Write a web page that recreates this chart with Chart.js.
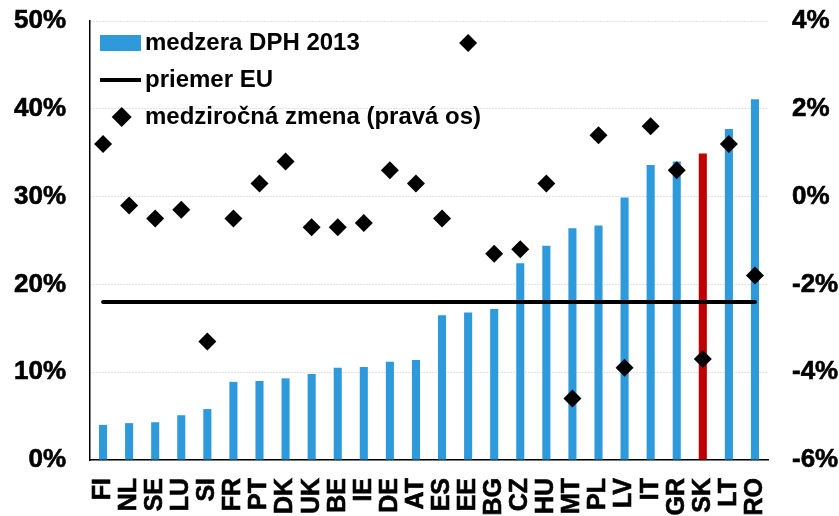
<!DOCTYPE html>
<html>
<head>
<meta charset="utf-8">
<script src="https://cdn.jsdelivr.net/npm/chart.js@4/dist/chart.umd.min.js"></script>
<style>
  html, body { margin: 0; padding: 0; background: #fff; }
  #wrap { width: 839px; height: 516px; }
</style>
</head>
<body>
<div id="wrap"><canvas id="c" width="839" height="516"></canvas></div>
<script>
// ---- data ----
const categories = ['FI','NL','SE','LU','SI','FR','PT','DK','UK','BE','IE','DE','AT','ES','EE','BG','CZ','HU','MT','PL','LV','IT','GR','SK','LT','RO'];
const vatGap2013 = [4.0,4.2,4.3,5.1,5.8,8.9,9.0,9.3,9.8,10.5,10.6,11.2,11.4,16.5,16.8,17.2,22.4,24.4,26.4,26.7,29.9,33.6,34.0,34.9,37.7,41.1];
const euAverage = [18,18,18,18,18,18,18,18,18,18,18,18,18,18,18,18,18,18,18,18,18,18,18,18,18,18];
const yoyChange = [1.2,-0.2,-0.5,-0.3,-3.3,-0.5,0.3,0.8,-0.7,-0.7,-0.6,0.6,0.3,-0.5,3.5,-1.3,-1.2,0.3,-4.6,1.4,-3.9,1.6,0.6,-3.7,1.2,-1.8];
const highlighted = 'SK';
const leftTicks = [0,10,20,30,40,50];
const rightTicks = [-6,-4,-2,0,2,4];
const legendLabels = ['medzera DPH 2013','priemer EU','medziročná zmena (pravá os)'];

// ---- styles ----
const BLUE = '#2e9adc';
const RED = '#c00000';
const FONT = "'Liberation Sans', Arial, sans-serif";

function makeGlyph(w, h, draw) {
  const c = document.createElement('canvas');
  c.width = w; c.height = h;
  draw(c.getContext('2d'));
  return c;
}
const glyphBar = makeGlyph(46, 16, g => { g.fillStyle = BLUE; g.fillRect(5, 0, 41, 16); });
const glyphLine = makeGlyph(46, 4, g => { g.fillStyle = '#000'; g.fillRect(5, 0, 41, 4); });
const glyphDiamond = makeGlyph(46, 20, g => {
  g.fillStyle = '#000'; g.beginPath();
  g.moveTo(26.7, 0); g.lineTo(36.7, 10); g.lineTo(26.7, 20); g.lineTo(16.7, 10); g.closePath(); g.fill();
});
const glyphs = [glyphBar, glyphLine, glyphDiamond];

function fixVertical(width) {
  return s => { s.width = width; s.paddingTop = 0; s.paddingBottom = 0; };
}
const tickFont = size => ({ family: FONT, size: size, weight: 'bold' });

new Chart(document.getElementById('c'), {
  type: 'bar',
  data: {
    labels: categories,
    datasets: [
      {
        type: 'line',
        label: legendLabels[2],
        data: yoyChange,
        yAxisID: 'y2',
        showLine: false,
        pointStyle: 'rectRot',
        pointRadius: 9,
        pointHoverRadius: 9,
        pointBackgroundColor: '#000',
        pointBorderWidth: 0,
        order: 0
      },
      {
        type: 'line',
        label: legendLabels[1],
        data: euAverage,
        yAxisID: 'y',
        borderColor: '#000',
        borderWidth: 4,
        borderCapStyle: 'round',
        pointRadius: 0,
        pointHoverRadius: 0,
        fill: false,
        order: 1
      },
      {
        type: 'bar',
        label: legendLabels[0],
        data: vatGap2013,
        yAxisID: 'y',
        backgroundColor: categories.map(c => c === highlighted ? RED : BLUE),
        borderWidth: 0,
        barPercentage: 0.31,
        categoryPercentage: 1.0,
        order: 2
      }
    ]
  },
  options: {
    responsive: false,
    animation: false,
    devicePixelRatio: 1,
    layout: { padding: { left: 0, right: 0, top: 21, bottom: 0 } },
    plugins: {
      tooltip: { enabled: false },
      legend: {
        position: 'chartArea',
        align: 'start',
        onClick: null,
        title: { display: true, text: ' ', padding: 4, font: { size: 10, lineHeight: 1 } },
        labels: {
          usePointStyle: true,
          pointStyleWidth: 30,
          padding: 13,
          color: '#000',
          font: { family: FONT, size: 24, weight: 'bold' },
          generateLabels: () => legendLabels.map((t, i) => ({
            text: t,
            pointStyle: glyphs[i],
            fillStyle: 'rgba(0,0,0,0)',
            strokeStyle: 'rgba(0,0,0,0)',
            lineWidth: 0,
            fontColor: '#000',
            hidden: false,
            datasetIndex: 2 - i
          }))
        }
      }
    },
    scales: {
      x: {
        position: 'bottom',
        offset: true,
        grid: { display: false, drawTicks: false },
        border: { display: true, color: '#000', width: 1.5 },
        ticks: {
          autoSkip: false,
          minRotation: 90,
          maxRotation: 90,
          padding: 18,
          color: '#000',
          textStrokeColor: '#000',
          textStrokeWidth: 0.6,
          font: tickFont(25)
        },
        afterFit: s => { s.height = 56; }
      },
      y: {
        position: 'left',
        min: 0, max: 50,
        afterBuildTicks: s => { s.ticks = leftTicks.map(v => ({ value: v })); },
        grid: { color: '#c4c4c4', lineWidth: 1, drawTicks: false },
        border: { display: true, color: '#000', width: 1.5, dash: [1, 2] },
        ticks: {
          padding: 24,
          color: '#000',
          textStrokeColor: '#000',
          textStrokeWidth: 0.6,
          font: tickFont(26),
          callback: v => v + '%'
        },
        afterFit: fixVertical(90)
      },
      y2: {
        position: 'right',
        min: -6, max: 4,
        afterBuildTicks: s => { s.ticks = rightTicks.map(v => ({ value: v })); },
        grid: { display: false, drawTicks: false },
        border: { display: false },
        ticks: {
          padding: 24,
          color: '#000',
          textStrokeColor: '#000',
          textStrokeWidth: 0.6,
          font: tickFont(26),
          callback: v => v + '%'
        },
        afterFit: fixVertical(71)
      }
    }
  }
});
</script>
</body>
</html>
